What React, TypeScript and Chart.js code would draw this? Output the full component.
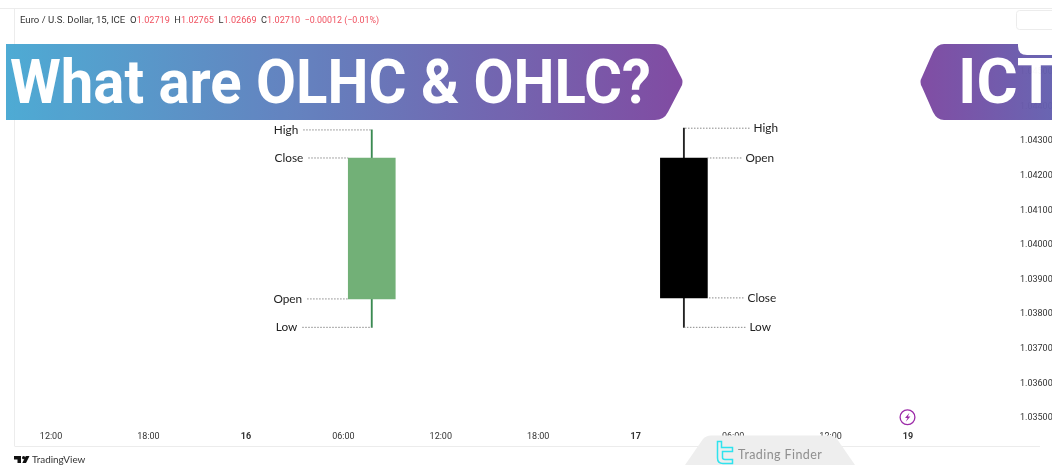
import React, { useEffect, useRef } from "react";
import { Chart, registerables } from "chart.js";

Chart.register(...registerables);

// x axis is measured in hours since the start of the 15th
const timeTickHours = [12, 18, 24, 30, 36, 42, 48, 54, 60, 64.77];
const timeTickLabels = ["12:00", "18:00", "16", "06:00", "12:00", "18:00", "17", "06:00", "12:00", "19"];
const boldTimeLabels = ["16", "17", "19"];
const priceTicks = [1.035, 1.036, 1.037, 1.038, 1.039, 1.04, 1.041, 1.042, 1.043, 1.044, 1.045];

// candles
const candleHours = [31.75, 50.97];
const candleOpen = [1.03844, 1.04251];
const candleClose = [1.04251, 1.03847];
const candleHigh = [1.04332, 1.04337];
const candleLow = [1.03762, 1.03762];
const candleBody = ["#72b077", "#000000"];
const candleWick = ["#3a8a52", "#222222"];

// callouts: label, price level, hour the leader starts at, hour where the label sits
const calloutLabels = ["High", "Close", "Open", "Low", "High", "Open", "Close", "Low"];
const calloutPrices = [1.04332, 1.04251, 1.03844, 1.03762, 1.04337, 1.04251, 1.03847, 1.03762];
const calloutFrom = [31.75, 30.3, 30.3, 31.75, 50.97, 52.42, 52.42, 50.97];
const calloutTo = [27.53, 27.84, 27.77, 27.47, 55.01, 54.51, 54.64, 54.76];

const AXIS_FONT = "Roboto, sans-serif";

const calloutText = {
  id: "calloutText",
  afterDatasetsDraw(chart: any) {
    const { ctx, scales } = chart;
    ctx.save();
    ctx.font = "11.8px Lato, sans-serif";
    ctx.fillStyle = "#222222";
    ctx.textBaseline = "middle";
    calloutLabels.forEach((label, i) => {
      const leftSide = calloutTo[i] < calloutFrom[i];
      ctx.textAlign = leftSide ? "right" : "left";
      const x = scales.x.getPixelForValue(calloutTo[i]) + (leftSide ? -5 : 4);
      ctx.fillText(label, x, scales.y.getPixelForValue(calloutPrices[i]));
    });
    ctx.restore();
  },
};

export default function App() {
  const ref = useRef<HTMLCanvasElement>(null);

  useEffect(() => {
    if (!ref.current) return;
    const wicks = candleHours.map((h, i) => ({
      type: "bar",
      data: [{ x: h, y: [candleLow[i], candleHigh[i]] }],
      backgroundColor: candleWick[i],
      barThickness: 1.2,
      grouped: false,
      order: 3,
    }));
    const bodies = candleHours.map((h, i) => ({
      type: "bar",
      data: [{ x: h, y: [candleOpen[i], candleClose[i]] }],
      backgroundColor: candleBody[i],
      barThickness: 47,
      grouped: false,
      order: 2,
    }));
    const leaders = calloutLabels.map((_, i) => ({
      type: "line",
      data: [
        { x: calloutTo[i], y: calloutPrices[i] },
        { x: calloutFrom[i], y: calloutPrices[i] },
      ],
      borderColor: "#8a8a8a",
      borderWidth: 1,
      borderDash: [1.5, 1.5],
      pointRadius: 0,
      order: 1,
    }));

    const chart = new Chart(ref.current, {
      type: "bar",
      data: { datasets: [...wicks, ...bodies, ...leaders] as any },
      plugins: [calloutText],
      options: {
        responsive: false,
        animation: false,
        devicePixelRatio: 1,
        layout: { padding: { left: 14, top: 8, right: 0, bottom: 20 } },
        plugins: { legend: { display: false }, tooltip: { enabled: false }, title: { display: false } },
        scales: {
          x: {
            type: "linear",
            offset: false,
            min: 9.72,
            max: 71.42,
            grid: { display: false, offset: false, drawTicks: false, tickLength: 0 },
            border: { display: false },
            afterBuildTicks: (s: any) => {
              s.ticks = timeTickHours.map((value) => ({ value }));
            },
            afterFit: (s: any) => {
              s.height = 20;
            },
            ticks: {
              autoSkip: false,
              maxRotation: 0,
              padding: 6,
              color: "#333333",
              callback: (v: any) => timeTickLabels[timeTickHours.indexOf(v)] ?? "",
              font: (c: any) => {
                const label = timeTickLabels[timeTickHours.indexOf(c.tick?.value)];
                return { family: AXIS_FONT, size: 9, weight: boldTimeLabels.includes(label) ? "bold" : "normal" };
              },
            },
          },
          y: {
            type: "linear",
            position: "right",
            min: 1.0348,
            max: 1.0468,
            grid: { display: false, drawTicks: false, tickLength: 0 },
            border: { display: false },
            afterBuildTicks: (s: any) => {
              s.ticks = priceTicks.map((value) => ({ value }));
            },
            afterFit: (s: any) => {
              s.width = 36;
            },
            ticks: {
              padding: 4,
              color: "#333333",
              font: { family: AXIS_FONT, size: 9 },
              callback: (v: any) => Number(v).toFixed(5),
            },
          },
        },
      } as any,
    });
    return () => chart.destroy();
  }, []);

  const red = "#f0505f";
  return (
    <div style={{ position: "absolute", left: 0, top: 0, width: 1052, height: 465, background: "#fff", overflow: "hidden" }}>
      <canvas ref={ref} width={1052} height={465} style={{ display: "block" }} />
      <svg width={1052} height={465} style={{ position: "absolute", left: 0, top: 0, pointerEvents: "none" }}>
        <defs>
          <linearGradient id="g1" gradientUnits="userSpaceOnUse" x1="6" x2="683" y1="0" y2="0">
            <stop offset="0" stopColor="#49a9d3" />
            <stop offset="1" stopColor="#7d46a0" />
          </linearGradient>
          <linearGradient id="g2" gradientUnits="userSpaceOnUse" x1="925" x2="1052" y1="0" y2="0">
            <stop offset="0" stopColor="#7c49a2" />
            <stop offset="1" stopColor="#6560b0" />
          </linearGradient>
        </defs>

        {/* pane frame */}
        <path d="M0 8.5H1052 M14.5 8.5V446 M14.5 446.5H1040" stroke="#ececec" strokeWidth="1" fill="none" />
        <rect x="1016.5" y="10.5" width="44" height="19" rx="3" fill="#fff" stroke="#ececec" />

        {/* legend line */}
        <text x="20" y="22.5" fontFamily="Roboto, sans-serif" fontSize="9.6" fill="#333" xmlSpace="preserve">
          <tspan>Euro / U.S. Dollar, 15, ICE  O</tspan>
          <tspan fill={red} fontSize="9.1">1.02719</tspan>
          <tspan fontSize="9.2">  H</tspan>
          <tspan fill={red} fontSize="9.1">1.02765</tspan>
          <tspan fontSize="9.2">  L</tspan>
          <tspan fill={red} fontSize="9.1">1.02669</tspan>
          <tspan fontSize="9.2">  C</tspan>
          <tspan fill={red} fontSize="9.1">1.02710</tspan>
          <tspan fill={red} fontSize="8.9">  −0.00012 (−0.01%)</tspan>
        </text>

        {/* banners */}
        <g opacity="0.97">
          <path d="M6 44H655Q664 44 668 52L681 77Q684 82 681 87L668 112Q664 120 655 120H6Z" fill="url(#g1)" />
          <text x="10" y="103" fontFamily="Roboto, sans-serif" fontWeight="700" fontSize="62" textLength="641" lengthAdjust="spacingAndGlyphs" fill="#fff">What are OLHC &amp; OHLC?</text>
          <path d="M1060 44H944Q937 44 933 52L922 77Q919 82 922 87L933 112Q937 120 944 120H1060Z" fill="url(#g2)" />
          <text x="958" y="103" fontFamily="Roboto, sans-serif" fontWeight="700" fontSize="63" fill="#fff">ICT</text>
        </g>
        <path d="M1018 30V46Q1018 55 1027 55H1052V30Z" fill="#fff" />

        {/* event marker */}
        <circle cx="907.5" cy="417.3" r="7.4" fill="#fff" stroke="#9c2aa8" strokeWidth="1.3" />
        <path d="M909.5 412.8L905 418H907.5L905.8 421.8L910.4 416.5H907.9Z" fill="#9c2aa8" />

        {/* TradingView mark */}
        <path d="M14 456H21V463H17.5V459.5H14Z M29.5 456L26 463H22.3L25.8 456Z" fill="#111" />
        <circle cx="23.6" cy="457.7" r="1.6" fill="#111" />
        <text x="32" y="463" fontFamily="Lato, sans-serif" fontSize="9.9" fill="#333">TradingView</text>

        {/* Trading Finder watermark */}
        <path d="M685 465L703 439Q706 435.5 711 435.5H829Q834 435.5 837 439L855 465Z" fill="#eeeeee" />
        <path d="M717.5 441.5H721.5V447.5H732.5V451.5H722.5V457.5Q722.5 459.5 725 459.5H732.5V463.5H723Q717.5 463.5 717.5 458Z" fill="none" stroke="#2fe3ee" strokeWidth="1.5" />
        <text x="738" y="459" fontFamily="Lato, sans-serif" fontSize="12.5" letterSpacing="0.4" fill="#8f8f8f">Trading Finder</text>
      </svg>
    </div>
  );
}
